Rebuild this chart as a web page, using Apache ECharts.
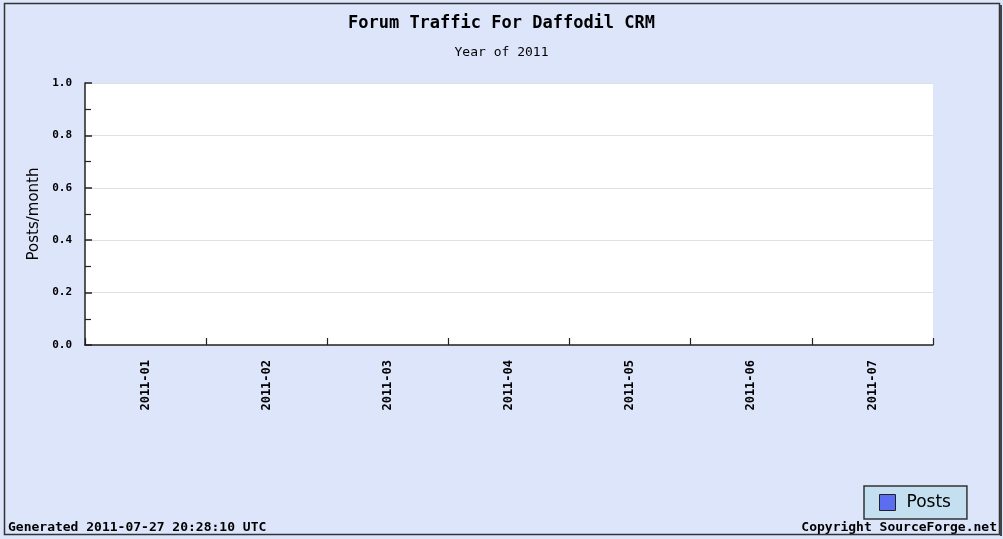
<!DOCTYPE html>
<html>
<head>
<meta charset="utf-8">
<script src="https://cdn.jsdelivr.net/npm/echarts@6/dist/echarts.min.js"></script>
<style>html,body{margin:0;padding:0;background:#fff}#c{width:1003px;height:539px}</style>
</head>
<body>
<div id="c"></div>
<script>
const months = ['2011-01','2011-02','2011-03','2011-04','2011-05','2011-06','2011-07'];
const posts = [0,0,0,0,0,0,0];
const yTicks = [0, 0.2, 0.4, 0.6, 0.8, 1.0];

const chart = echarts.init(document.getElementById('c'));
const mono = '"DejaVu Sans Mono", monospace';
chart.setOption({
  backgroundColor: '#dde5fb',
  animation: false,
  title: [
    {text: 'Forum Traffic For Daffodil CRM', left: 'center', top: 10,
     textStyle: {fontFamily: mono, fontSize: 17, fontWeight: 'bold', color: '#000'}},
    {text: 'Year of 2011', left: 'center', top: 41,
     textStyle: {fontFamily: mono, fontSize: 13, fontWeight: 'normal', color: '#000'}}
  ],
  graphic: [
    {type: 'rect', shape: {x: 4.5, y: 3.5, width: 995, height: 531}, silent: true,
     style: {fill: 'none', stroke: '#333', lineWidth: 1.5}, z: 100},
    {type: 'line', shape: {x1: 1001, y1: 5, x2: 1001, y2: 536}, silent: true,
     style: {stroke: '#444', lineWidth: 2}, z: 100},
    {type: 'text', left: 8, top: 521, style: {text: 'Generated 2011-07-27 20:28:10 UTC', font: 'bold 13px "DejaVu Sans Mono"', fill: '#000'}},
    {type: 'text', right: 6, top: 521, style: {text: 'Copyright SourceForge.net', font: 'bold 13px "DejaVu Sans Mono"', fill: '#000'}}
  ],
  legend: {
    left: 864, top: 486,
    orient: 'horizontal',
    padding: [8, 16, 8, 15],
    backgroundColor: '#c3dff0',
    borderColor: '#333', borderWidth: 1.5,
    itemWidth: 16, itemHeight: 16, itemGap: 10,
    icon: 'rect',
    textStyle: {fontFamily: '"DejaVu Sans", sans-serif', fontSize: 17, color: '#000', padding: [0, 0, 0, 6]},
    data: [{name: 'Posts', itemStyle: {color: '#5b6ef0', borderColor: '#222', borderWidth: 1}}]
  },
  grid: {left: 85, right: 70, top: 83, bottom: 194, show: true, backgroundColor: '#fff', borderWidth: 0},
  xAxis: {
    type: 'category', data: months, boundaryGap: true, z: 10,
    axisLine: {lineStyle: {color: '#222', width: 1.5}},
    axisTick: {show: true, inside: true, length: 7, interval: 0, alignWithLabel: false, lineStyle: {color: '#222', width: 1.2}},
    axisLabel: {rotate: 90, interval: 0, margin: 15, fontFamily: mono, fontSize: 12, fontWeight: 'bold', color: '#000'},
    splitLine: {show: false}
  },
  yAxis: [{
    type: 'value', min: 0, max: 1, interval: 0.2, z: 5,
    name: 'Posts/month', nameLocation: 'middle', nameGap: 40,
    nameTextStyle: {fontFamily: '"DejaVu Sans", sans-serif', fontSize: 15, color: '#000'},
    axisLine: {show: true, lineStyle: {color: '#222', width: 1.5}},
    axisTick: {show: false},
    axisLabel: {margin: 13, fontFamily: mono, fontSize: 11, fontWeight: 'bold', color: '#000',
      formatter: v => yTicks.includes(Math.round(v*10)/10) ? v.toFixed(1) : ''},
    splitLine: {show: true, lineStyle: {color: '#e0e0e0', width: 1}}
  }, {
    type: 'value', min: 0, max: 1, interval: 0.2, z: 20, zlevel: 1, position: 'left',
    axisLine: {show: false},
    axisTick: {show: true, inside: true, length: 7, lineStyle: {color: '#222', width: 1.5}},
    minorTick: {show: true, splitNumber: 2, length: 6, lineStyle: {color: '#222', width: 1.2}},
    axisLabel: {show: false},
    splitLine: {show: false}
  }],
  series: [{name: 'Posts', type: 'bar', data: posts, yAxisIndex: 0, itemStyle: {color: '#5b6ef0'}}]
});
</script>
</body>
</html>
